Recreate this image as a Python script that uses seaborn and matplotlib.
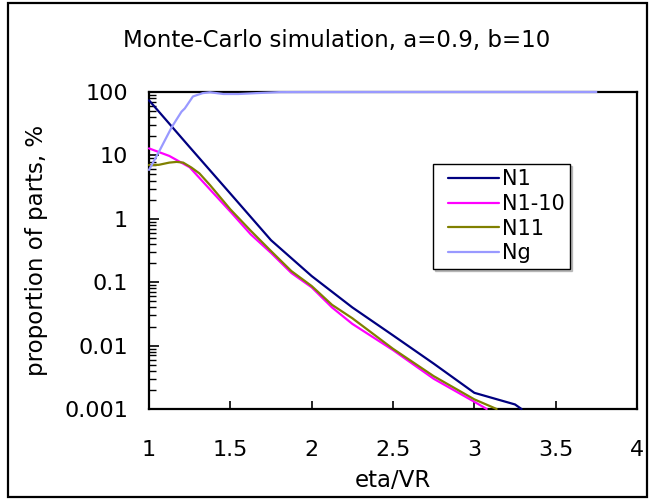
import numpy as np
import pandas as pd
import matplotlib
matplotlib.use("Agg")
import matplotlib.pyplot as plt
import seaborn as sns
from matplotlib.patches import Rectangle
from matplotlib.lines import Line2D
from matplotlib.legend_handler import HandlerLine2D
from matplotlib.ticker import FixedLocator, FixedFormatter, LogLocator, NullFormatter

# ---- data ----
title = "Monte-Carlo simulation, a=0.9, b=10"
xlabel = "eta/VR"
ylabel = "proportion of parts, %"
series_names = ["N1", "N1-10", "N11", "Ng"]
series_colors = ["#000080", "#FF00FF", "#808000", "#9999FF"]

x_n1 = [1.0, 1.25, 1.5, 1.75, 2.0, 2.25, 2.5, 2.75, 3.0, 3.25, 3.29]
y_n1 = [74, 13.5, 2.5, 0.46, 0.125, 0.04, 0.0145, 0.0052, 0.0018, 0.00118, 0.001]

x_n110 = [1.0, 1.125, 1.25, 1.375, 1.5, 1.625, 1.75, 1.875, 2.0, 2.125, 2.25, 2.5, 2.75, 3.0, 3.076]
y_n110 = [12.9, 9.8, 6.5, 2.9, 1.3, 0.57, 0.29, 0.14, 0.083, 0.04, 0.022, 0.0085, 0.003, 0.0013, 0.001]

x_n11 = [1.0, 1.06, 1.125, 1.17, 1.21, 1.26, 1.31, 1.375, 1.5, 1.625, 1.75, 1.875, 2.0, 2.125, 2.25, 2.5, 2.75, 3.0, 3.137]
y_n11 = [7.06, 7.1, 7.7, 7.9, 7.7, 6.45, 5.2, 3.4, 1.41, 0.65, 0.31, 0.15, 0.087, 0.044, 0.027, 0.0089, 0.0033, 0.00142, 0.001]

x_ng = [1.0, 1.067, 1.14, 1.2, 1.22, 1.27, 1.33, 1.375, 1.457, 1.55, 1.66, 1.8, 2.0, 2.5, 3.0, 3.5, 3.75]
y_ng = [5.9, 12.2, 28, 49, 55, 85, 96, 99, 93, 93, 96, 99.5, 99.8, 99.9, 100, 100, 100]

x_ticks = [1, 1.5, 2, 2.5, 3, 3.5, 4]
x_ticklabels = ["1", "1.5", "2", "2.5", "3", "3.5", "4"]
y_ticks = [0.001, 0.01, 0.1, 1, 10, 100]
y_ticklabels = ["0.001", "0.01", "0.1", "1", "10", "100"]

frames = []
for name, xs, ys in zip(series_names, [x_n1, x_n110, x_n11, x_ng],
                        [y_n1, y_n110, y_n11, y_ng]):
    frames.append(pd.DataFrame({"x": xs, "y": ys, "series": name}))
df = pd.concat(frames, ignore_index=True)

sns.set_style("white")
plt.rcParams["font.family"] = ["DejaVu Sans"]
plt.rcParams["text.color"] = "black"
plt.rcParams["axes.labelcolor"] = "black"
plt.rcParams["xtick.color"] = "black"
plt.rcParams["ytick.color"] = "black"

W, H = 651, 500
fig = plt.figure(figsize=(W / 100, H / 100), dpi=100)
ax = fig.add_axes([149 / W, 1 - 409 / H, (637 - 149) / W, (409 - 92) / H])

palette = dict(zip(series_names, series_colors))
sns.lineplot(data=df, x="x", y="y", hue="series", hue_order=series_names,
             palette=palette, sort=False, estimator=None, linewidth=1.6,
             ax=ax, legend=False)
for ln in ax.get_lines():
    ln.set_clip_on(False)
    ln.set_zorder(3)
    ln.set_solid_joinstyle("round")

ax.set_yscale("log")
ax.set_xlim(1, 4)
ax.set_ylim(0.001, 100)

ax.xaxis.set_major_locator(FixedLocator(x_ticks))
ax.xaxis.set_major_formatter(FixedFormatter(x_ticklabels))
ax.yaxis.set_major_locator(FixedLocator(y_ticks))
ax.yaxis.set_major_formatter(FixedFormatter(y_ticklabels))
ax.yaxis.set_minor_locator(LogLocator(base=10, subs=np.arange(2, 10)))
ax.yaxis.set_minor_formatter(NullFormatter())

ax.tick_params(axis="x", which="major", direction="in", length=6, width=1.2,
               pad=22, labelsize=16, bottom=True, top=False, colors="black")
ax.tick_params(axis="y", which="major", direction="in", length=7, width=1.2,
               pad=15, labelsize=16, left=True, right=False, colors="black")
ax.tick_params(axis="y", which="minor", direction="in", length=5, width=1.0,
               left=True, right=False, colors="black")

for sp in ax.spines.values():
    sp.set_visible(True)
    sp.set_color("black")
    sp.set_linewidth(1.6)

ax.set_xlabel(xlabel, fontsize=16.5, labelpad=7, color="black")
ax.set_ylabel(ylabel, fontsize=16.5, labelpad=12, color="black")
ax.grid(False)

fig.text(337 / W, 1 - 47 / H, title, ha="center", va="baseline",
         fontsize=16.5, color="black")

handles = [Line2D([], [], color=c, lw=1.6) for c in series_colors]
leg = ax.legend(handles, series_names, loc="upper left",
                bbox_to_anchor=(433 / W, 1 - 164 / H), bbox_transform=fig.transFigure,
                fontsize=15, frameon=True, fancybox=False,
                shadow={"ox": 1.5, "oy": -1.5, "color": "0.55"},
                handlelength=2.91, handletextpad=0.14, borderpad=0.26,
                labelspacing=0.22, borderaxespad=0,
                handler_map={Line2D: HandlerLine2D(xpad=0.46)})
leg.get_frame().set_edgecolor("black")
leg.get_frame().set_linewidth(1.0)

fig.patches.append(Rectangle((8 / W, 3 / H), (647 - 8) / W, (497 - 3) / H,
                             transform=fig.transFigure, fill=False,
                             edgecolor="black", linewidth=1.6))

fig.savefig("out.png", dpi=100)
